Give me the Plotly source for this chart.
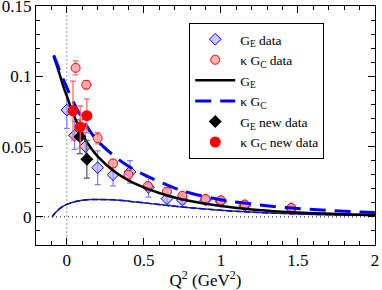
import plotly.graph_objects as go

# Theory curves
curve_x = [-0.085, -0.06, -0.04, -0.02, 0.0, 0.05, 0.1, 0.15, 0.2, 0.3, 0.4, 0.5, 0.6, 0.7, 0.8, 1.0, 1.2, 1.4, 1.6, 1.8, 2.0]
ge_curve = [0.114, 0.106, 0.099, 0.092, 0.086, 0.071, 0.059, 0.050, 0.043, 0.033, 0.026, 0.021, 0.017, 0.0138, 0.0113, 0.0077, 0.0053, 0.0037, 0.0026, 0.0019, 0.0014]
kgc_curve = [0.115, 0.108, 0.102, 0.097, 0.092, 0.080, 0.070, 0.061, 0.054, 0.044, 0.036, 0.030, 0.025, 0.0205, 0.017, 0.0122, 0.0092, 0.0068, 0.0052, 0.0040, 0.0031]

low_x = [-0.095, -0.08, -0.06, -0.04, -0.02, 0.0, 0.05, 0.1, 0.15, 0.2, 0.3, 0.4, 0.5, 0.6, 0.75, 1.0, 1.25, 1.5, 1.75, 2.0]
low_y = [0.0, 0.0022, 0.0045, 0.0064, 0.0078, 0.0089, 0.0107, 0.0118, 0.0123, 0.0124, 0.0121, 0.0112, 0.0100, 0.0088, 0.0070, 0.0047, 0.0031, 0.0021, 0.0014, 0.0010]

# G_E data
ge_x = [0.0, 0.05, 0.12, 0.2, 0.3, 0.41, 0.53, 0.65, 0.75, 0.9, 1.0, 1.155, 1.457]
ge_y = [0.076, 0.058, 0.050, 0.035, 0.030, 0.032, 0.021, 0.013, 0.012, 0.012, 0.011, 0.008, 0.006]
ge_err = [0.013, 0.010, 0.010, 0.012, 0.008, 0.008, 0.007, 0.004, 0.003, 0.002, 0.002, 0.002, 0.002]

# kappa G_C data
gc_x = [0.057, 0.126, 0.2, 0.3, 0.4, 0.526, 0.65, 0.75, 0.9, 1.0, 1.155, 1.457]
gc_y = [0.106, 0.094, 0.056, 0.038, 0.030, 0.022, 0.018, 0.015, 0.0128, 0.0117, 0.0088, 0.0064]
gc_err = [0.005, 0.003, 0.004, 0.003, 0.003, 0.002, 0.002, 0.002, 0.002, 0.0015, 0.0015, 0.0015]

# new data
ge_new_x = [0.085, 0.13]
ge_new_y = [0.057, 0.041]
ge_new_err = [0.012, 0.0135]

gc_new_x = [0.04, 0.087, 0.13]
gc_new_y = [0.0755, 0.064, 0.072]
gc_new_err = [0.021, 0.015, 0.012]

FONT = "Liberation Serif"

fig = go.Figure()

# reference lines
fig.add_trace(go.Scatter(x=[0, 0], y=[-0.02, 0.15], mode="lines",
                         line=dict(color="#999999", width=1, dash="2px,2px"),
                         showlegend=False, hoverinfo="skip"))
fig.add_trace(go.Scatter(x=[-0.2, 2], y=[0, 0], mode="lines",
                         line=dict(color="black", width=1, dash="1px,3px"),
                         showlegend=False, hoverinfo="skip"))

# lower curve
fig.add_trace(go.Scatter(x=low_x, y=low_y, mode="lines", line_shape="spline",
                         line=dict(color="#333333", width=1.5), showlegend=False))
fig.add_trace(go.Scatter(x=low_x, y=low_y, mode="lines", line_shape="spline",
                         line=dict(color="blue", width=1.5, dash="6px,3px"), showlegend=False))

# data
fig.add_trace(go.Scatter(x=ge_x, y=ge_y, mode="markers", name="G<sub>E</sub> data",
                         error_y=dict(type="data", array=ge_err, color="#8080ff", thickness=1.2, width=3),
                         marker=dict(symbol="diamond", size=9, color="rgba(160,160,255,0.55)",
                                     line=dict(color="blue", width=1))))
fig.add_trace(go.Scatter(x=gc_x, y=gc_y, mode="markers", name="κ G<sub>C</sub> data",
                         error_y=dict(type="data", array=gc_err, color="#ff7070", thickness=1.2, width=3),
                         marker=dict(symbol="circle", size=9, color="rgba(255,160,160,0.8)",
                                     line=dict(color="red", width=1))))

# curves
fig.add_trace(go.Scatter(x=curve_x, y=ge_curve, mode="lines", name="G<sub>E</sub>", line_shape="spline",
                         line=dict(color="black", width=2.5)))
fig.add_trace(go.Scatter(x=curve_x, y=kgc_curve, mode="lines", name="κ G<sub>C</sub>", line_shape="spline",
                         line=dict(color="blue", width=3, dash="16px,9px")))

fig.add_trace(go.Scatter(x=ge_new_x, y=ge_new_y, mode="markers", name="G<sub>E</sub> new data",
                         error_y=dict(type="data", array=ge_new_err, color="#555555", thickness=1.2, width=3),
                         marker=dict(symbol="diamond", size=10, color="black")))
fig.add_trace(go.Scatter(x=gc_new_x, y=gc_new_y, mode="markers", name="κ G<sub>C</sub> new data",
                         error_y=dict(type="data", array=gc_new_err, color="#ff6060", thickness=1.2, width=3),
                         marker=dict(symbol="circle", size=11, color="red")))

axis_common = dict(showline=True, linecolor="black", linewidth=1, mirror="ticks",
                   ticks="inside", ticklen=7, tickcolor="black", showgrid=False, zeroline=False,
                   automargin=False, ticklabeloverflow="allow",
                   tickfont=dict(family=FONT, size=17, color="black"))

fig.update_xaxes(range=[-0.2, 2], tickvals=[0, 0.5, 1, 1.5, 2], ticktext=["0", "0.5", "1", "1.5", "2"],
                 minor=dict(dtick=0.1, tick0=0, ticks="inside", ticklen=4, tickcolor="black"),
                 title=dict(text="Q<sup>2</sup> (GeV<sup>2</sup>)", font=dict(family=FONT, size=17, color="black"), standoff=10),
                 **axis_common)
fig.update_yaxes(range=[-0.02, 0.15], tickvals=[0, 0.05, 0.1, 0.15], ticktext=["0", "0.05", "0.1", "0.15"],
                 minor=dict(dtick=0.01, tick0=0, ticks="inside", ticklen=4, tickcolor="black"),
                 **axis_common)

fig.update_layout(
    width=382, height=290,
    margin=dict(l=36, r=7, t=6, b=45),
    plot_bgcolor="white", paper_bgcolor="white",
    font=dict(family=FONT, color="black"),
    legend=dict(x=0.452, y=0.929, xanchor="left", yanchor="top",
                bordercolor="black", borderwidth=1, bgcolor="white",
                font=dict(family=FONT, size=13.5, color="black"),
                itemwidth=40, tracegroupgap=0),
)

fig.write_html("out.html", config={"displayModeBar": False},
               post_script="document.body.style.margin='0px';document.body.style.overflow='hidden';")
